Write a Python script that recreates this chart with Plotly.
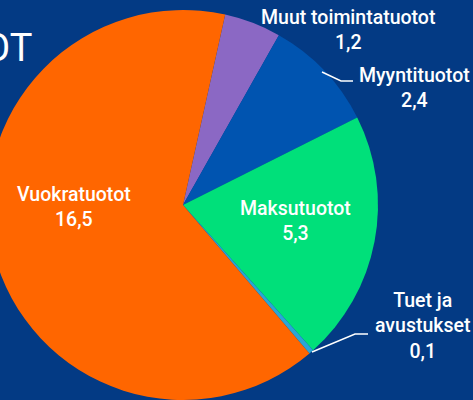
import plotly.graph_objects as go

# visible page is 473x400; the chart is a crop of a wider slide,
# so the figure is 12px wider and shifted left by 12px
VIEW_W, VIEW_H = 473, 400
SHIFT_X = 12
W, H = VIEW_W + SHIFT_X, VIEW_H

labels = ["Muut toimintatuotot", "Myyntituotot", "Maksutuotot", "Tuet ja avustukset", "Vuokratuotot"]
label_lines = ["Muut toimintatuotot", "Myyntituotot", "Maksutuotot", "Tuet ja<br>avustukset", "Vuokratuotot"]
values = [1.2, 2.4, 5.3, 0.1, 16.5]
value_text = ["1,2", "2,4", "5,3", "0,1", "16,5"]
colors = ["#8B68C4", "#0054B0", "#00E07A", "#2AA6D6", "#FF6600"]
title_text = "TUOTOT"

BG = "#033A84"

# pie geometry in visible-page pixels (center, radius)
cx, cy, r = 183, 205, 195


def px(x):
    return (x + SHIFT_X) / W


def py(y):
    return 1 - y / H


fig = go.Figure()
fig.add_trace(go.Pie(
    labels=labels,
    values=values,
    sort=False,
    direction="clockwise",
    rotation=12.5,
    marker=dict(colors=colors, line=dict(width=0)),
    textinfo="none",
    hoverinfo="label+value",
    showlegend=False,
    domain=dict(x=[max(0, px(cx - r)), px(cx + r)],
                y=[max(0, py(cy + r)), py(cy - r)]),
))

font = dict(family="Roboto, Liberation Sans, Arial", size=19.5, color="white", weight=500)

# label positions (visible-page pixels, centre of text block)
label_pos = [(348, 30), (414, 88), (295, 221), (422, 326), (74, 207)]
for lab, val, (x, y) in zip(label_lines, value_text, label_pos):
    fig.add_annotation(
        x=px(x), y=py(y), xref="paper", yref="paper",
        text=f"{lab}<br>{val}", showarrow=False,
        font=font, align="center", xanchor="center", yanchor="middle",
    )

# title (partially cut off at left, as in the source slide)
fig.add_annotation(
    x=px(34), y=py(48), xref="paper", yref="paper",
    text=title_text, showarrow=False, xanchor="right", yanchor="middle",
    font=dict(family="Roboto, Liberation Sans, Arial", size=38, color="white"),
)

# leader lines
leaders = [
    [(322, 72), (341, 81), (353, 81)],
    [(312, 352), (355, 334), (368, 334)],
]
for pts in leaders:
    path = "M " + " L ".join(f"{px(x)} {py(y)}" for x, y in pts)
    fig.add_shape(type="path", xref="paper", yref="paper", path=path,
                  line=dict(color="white", width=1.4))

fig.update_layout(
    width=W, height=H,
    margin=dict(l=0, r=0, t=0, b=0),
    paper_bgcolor=BG, plot_bgcolor=BG,
)

post = (
    "document.body.style.margin='0';"
    "document.body.style.overflow='hidden';"
    "document.body.style.background='" + BG + "';"
    "var d=document.getElementById('{plot_id}');"
    "d.style.marginLeft='-" + str(SHIFT_X) + "px';"
)

fig.write_html("out.html", post_script=post, config={"displayModeBar": False})
